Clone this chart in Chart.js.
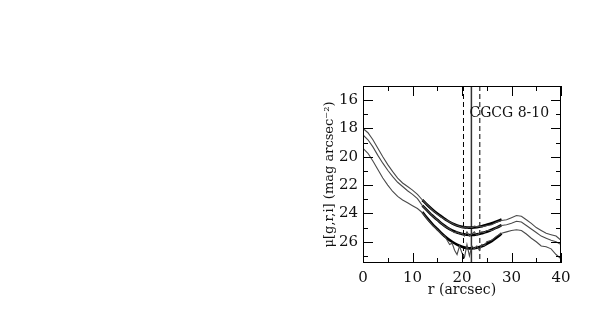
<!DOCTYPE html>
<html>
<head>
<meta charset="utf-8">
<script src="https://cdn.jsdelivr.net/npm/chart.js@4/dist/chart.umd.min.js"></script>
<style>
html,body{margin:0;padding:0;background:#fff;}
#wrap{position:relative;width:598px;height:318px;}
</style>
</head>
<body>
<div id="wrap"><canvas id="c" width="598" height="318"></canvas></div>
<script>
// ---- data ----
const radius = [0,1,2,3,4,5,6,7,8,9,10,11,12,13,14,15,16,16.5,17,17.5,18,18.5,19,19.5,20,20.5,21,21.5,22,22.5,23,23.5,24,24.5,25,26,27,28,29,30,31,32,33,34,35,36,37,38,39,40];
const muI = [18.0,18.3,18.8,19.4,20.0,20.55,21.05,21.5,21.85,22.1,22.35,22.65,23.05,23.4,23.75,24.05,24.3,24.4,24.5,24.6,24.7,24.8,24.85,24.9,25.0,24.95,25.05,24.95,25.0,24.9,24.95,24.9,24.95,24.9,24.85,24.8,24.6,24.5,24.45,24.3,24.15,24.2,24.45,24.7,25.0,25.2,25.4,25.5,25.6,25.9];
const muR = [18.45,18.8,19.3,19.9,20.45,20.95,21.4,21.8,22.1,22.4,22.65,22.95,23.45,23.8,24.15,24.45,24.75,24.9,25.0,25.1,25.25,25.35,25.3,25.45,25.4,25.6,25.3,25.6,25.45,25.3,25.55,25.4,25.3,25.35,25.2,25.2,25.0,24.85,24.8,24.7,24.55,24.6,24.85,25.1,25.35,25.6,25.75,25.9,26.0,26.2];
const muG = [19.4,19.75,20.3,20.9,21.5,22.0,22.45,22.8,23.05,23.25,23.45,23.65,23.95,24.4,24.8,25.15,25.5,25.6,25.9,26.2,26.1,26.6,26.9,26.3,26.8,27.1,26.2,27.0,26.3,26.5,26.3,26.6,26.2,26.3,26.0,25.9,25.6,25.4,25.3,25.2,25.15,25.2,25.45,25.75,26.0,26.3,26.35,26.5,26.9,27.2];

const fitRadius = [12,13,14,15,16,17,18,19,20,21,22,23,24,25,26,27,28];
const fitI = [23.05,23.4,23.72,24.0,24.25,24.5,24.7,24.85,24.95,25.0,25.0,24.97,24.9,24.8,24.7,24.57,24.43];
const fitR = [23.45,23.8,24.15,24.45,24.75,25.0,25.2,25.35,25.45,25.5,25.52,25.48,25.4,25.3,25.15,25.0,24.83];
const fitG = [23.9,24.35,24.75,25.1,25.45,25.75,26.0,26.2,26.35,26.45,26.47,26.42,26.32,26.15,25.95,25.7,25.42];

const rCentre = 21.9;        // solid vertical line
const rBand = [20.3, 23.6];  // dashed vertical lines

const xTickLabels = [0,10,20,30,40];
const yTickLabels = [16,18,20,22,24,26];
const xMinorTicks = [5,15,25,35];
const yMinorTicks = [15,17,19,21,23,25,27];
const galaxyName = 'CGCG 8-10';
const xTitle = 'r (arcsec)';
const yTitle = 'μ[g,r,i] (mag arcsec⁻²)';

const xMin = 0, xMax = 40, yMin = 15, yMax = 27.5;
// ----------------------------------------

const pts = (xs, ys) => xs.map((x, i) => ({x, y: ys[i]}));
const vline = x => [{x, y: yMin}, {x, y: yMax}];

const thin = (ys) => ({data: pts(radius, ys), borderColor: '#4a4a4a', borderWidth: 1.1, pointRadius: 0, tension: 0, fill: false});
const thick = (ys) => ({data: pts(fitRadius, ys), borderColor: '#000', borderWidth: 2.6, pointRadius: 0, tension: 0.4, cubicInterpolationMode: 'monotone', fill: false});

const FONT = 'DejaVu Serif';

const decor = {
  id: 'decor',
  afterDatasetsDraw(chart) {
    const {ctx, chartArea: a, scales: {x, y}} = chart;
    ctx.save();
    ctx.strokeStyle = '#000';
    ctx.lineWidth = 1;
    ctx.strokeRect(a.left + 0.5, a.top + 0.5, a.right - a.left - 1, a.bottom - a.top - 1);
    const tick = (v, len, horiz) => {
      ctx.beginPath();
      if (horiz) {
        const px = Math.round(x.getPixelForValue(v)) + 0.5;
        ctx.moveTo(px, a.bottom); ctx.lineTo(px, a.bottom - len);
        ctx.moveTo(px, a.top); ctx.lineTo(px, a.top + len);
      } else {
        const py = Math.round(y.getPixelForValue(v)) + 0.5;
        ctx.moveTo(a.left, py); ctx.lineTo(a.left + len, py);
        ctx.moveTo(a.right, py); ctx.lineTo(a.right - len, py);
      }
      ctx.stroke();
    };
    xTickLabels.forEach(v => tick(v, 10, true));
    xMinorTicks.forEach(v => tick(v, 5, true));
    yTickLabels.forEach(v => tick(v, 10, false));
    yMinorTicks.forEach(v => tick(v, 5, false));
    ctx.fillStyle = '#111';
    ctx.font = '14px "' + FONT + '"';
    ctx.textBaseline = 'middle';
    ctx.textAlign = 'left';
    ctx.fillText(galaxyName, x.getPixelForValue(21.5), y.getPixelForValue(16.9));
    ctx.restore();
  }
};

new Chart(document.getElementById('c'), {
  type: 'line',
  data: {
    datasets: [
      thin(muI), thin(muR), thin(muG),
      thick(fitI), thick(fitR), thick(fitG),
      {data: vline(rCentre), borderColor: '#333', borderWidth: 1.5, pointRadius: 0},
      {data: vline(rBand[0]), borderColor: '#000', borderWidth: 1, borderDash: [5, 3], pointRadius: 0},
      {data: vline(rBand[1]), borderColor: '#000', borderWidth: 1, borderDash: [5, 3], pointRadius: 0}
    ]
  },
  plugins: [decor],
  options: {
    responsive: false,
    animation: false,
    devicePixelRatio: 1,
    layout: {padding: {left: 310, right: 37, top: 86, bottom: 10}},
    plugins: {legend: {display: false}, tooltip: {enabled: false}},
    scales: {
      x: {
        type: 'linear', min: xMin, max: xMax,
        grid: {display: false, drawTicks: false},
        border: {display: false},
        afterBuildTicks: s => { s.ticks = xTickLabels.map(v => ({value: v})); },
        afterFit: s => { s.height = 45; },
        ticks: {padding: 6, color: '#111', font: {family: FONT, size: 15}, maxRotation: 0},
        title: {display: true, text: xTitle, color: '#111', font: {family: FONT, size: 14}, padding: {top: 0, bottom: 9}}
      },
      y: {
        type: 'linear', min: yMin, max: yMax, reverse: true,
        grid: {display: false, drawTicks: false},
        border: {display: false},
        afterBuildTicks: s => { s.ticks = yTickLabels.map(v => ({value: v})); },
        afterFit: s => { s.width = 53; },
        ticks: {padding: 5, color: '#111', font: {family: FONT, size: 15}},
        title: {display: true, text: yTitle, color: '#111', font: {family: FONT, size: 13}, padding: {top: 12, bottom: 0}}
      }
    }
  }
});
</script>
</body>
</html>
